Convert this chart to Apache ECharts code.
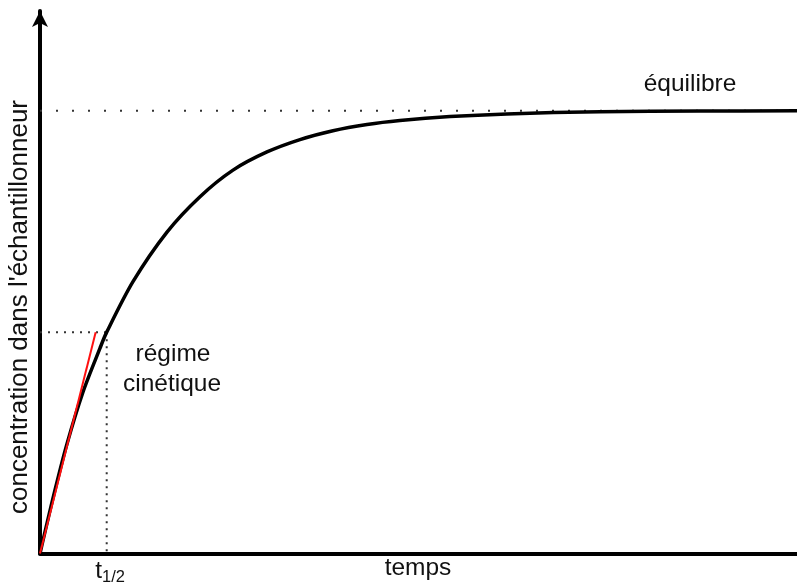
<!DOCTYPE html>
<html>
<head>
<meta charset="utf-8">
<script src="https://cdn.jsdelivr.net/npm/echarts@6/dist/echarts.min.js"></script>
<style>
html,body{margin:0;padding:0;background:#fff;}
#chart{width:797px;height:585px;}
</style>
</head>
<body>
<div id="chart"></div>
<script>
// Data (time in units of t1/2, concentration relative to equilibrium)
var times = [0, 0.195, 0.40, 0.645, 0.90, 1.0, 1.394, 1.904, 2.399, 2.894, 3.403, 3.898, 4.393, 4.903, 5.397, 6.147, 7.0, 8.396, 9.9, 11.35];
var conc  = [0, 0.125, 0.245, 0.365, 0.464, 0.5, 0.614, 0.726, 0.806, 0.866, 0.907, 0.935, 0.955, 0.969, 0.978, 0.987, 0.993, 0.998, 0.9995, 1.0];
var tangentT = [0, 0.835];
var tangentC = [0, 0.5];
var tHalf = 1.0;
var halfConc = 0.5;
var equilibrium = 1.0;
var xMax = 11.35;
var yMax = 1.222;
var labels = {
  yName: "concentration dans l'échantillonneur",
  xName: "temps",
  eq: "équilibre",
  kin1: "régime",
  kin2: "cinétique",
  tSym: "t",
  tSub: "1/2"
};

var curve = times.map(function (t, i) { return [t, conc[i]]; });
var tangent = tangentT.map(function (t, i) { return [t, tangentC[i]]; });

var chart = echarts.init(document.getElementById('chart'), null, {renderer: 'canvas'});
var FONT = '"Liberation Sans", Arial, sans-serif';
var TXT = '#111';

chart.setOption({
  animation: false,
  backgroundColor: '#ffffff',
  grid: {left: 40, right: 0, top: 11, bottom: 31.5, containLabel: false},
  xAxis: {
    type: 'value', min: 0, max: xMax,
    axisLine: {show: true, onZero: false, lineStyle: {color: '#000', width: 4}},
    axisTick: {show: false}, axisLabel: {show: false}, splitLine: {show: false}
  },
  yAxis: {
    type: 'value', min: 0, max: yMax * (542.5 / 541),
    axisLine: {show: true, onZero: false, symbol: ['none', 'arrow'], symbolSize: [12, 16],
      lineStyle: {color: '#000', width: 4}},
    axisTick: {show: false}, axisLabel: {show: false}, splitLine: {show: false}
  },
  series: [
    {
      type: 'line', data: [[0, equilibrium], [xMax, equilibrium]], symbol: 'none', silent: true,
      lineStyle: {color: '#333', width: 2, type: [2, 14], cap: 'butt'}, z: 1
    },
    {
      type: 'line', data: [[0, halfConc], [tHalf, halfConc]], symbol: 'none', silent: true,
      lineStyle: {color: '#333', width: 2, type: [2, 6], cap: 'butt'}, z: 1
    },
    {
      type: 'line', data: [[tHalf, halfConc], [tHalf, 0]], symbol: 'none', silent: true,
      lineStyle: {color: '#333', width: 2, type: [2, 5], cap: 'butt'}, z: 1
    },
    {
      type: 'line', data: curve, smooth: 0.3, symbol: 'none',
      lineStyle: {color: '#000', width: 3.5}, z: 3
    },
    {
      type: 'line', data: tangent, symbol: 'none',
      lineStyle: {color: '#ff1010', width: 2}, z: 4
    }
  ],
  graphic: [
    {type: 'text', x: 20, y: 307, rotation: Math.PI / 2,
      style: {text: labels.yName, font: '26px ' + FONT, fill: TXT, align: 'center', verticalAlign: 'middle'}},
    {type: 'text', x: 418, y: 568,
      style: {text: labels.xName, font: '24.5px ' + FONT, fill: TXT, align: 'center', verticalAlign: 'middle'}},
    {type: 'text', x: 690, y: 84,
      style: {text: labels.eq, font: '24.5px ' + FONT, fill: TXT, align: 'center', verticalAlign: 'middle'}},
    {type: 'text', x: 173, y: 354,
      style: {text: labels.kin1, font: '24.5px ' + FONT, fill: TXT, align: 'center', verticalAlign: 'middle'}},
    {type: 'text', x: 172, y: 384,
      style: {text: labels.kin2, font: '24.5px ' + FONT, fill: TXT, align: 'center', verticalAlign: 'middle'}},
    {type: 'text', x: 102, y: 571,
      style: {text: labels.tSym, font: '24.5px ' + FONT, fill: TXT, align: 'right', verticalAlign: 'middle'}},
    {type: 'text', x: 102, y: 577,
      style: {text: labels.tSub, font: '16.5px ' + FONT, fill: TXT, align: 'left', verticalAlign: 'middle'}}
  ]
});
</script>
</body>
</html>
